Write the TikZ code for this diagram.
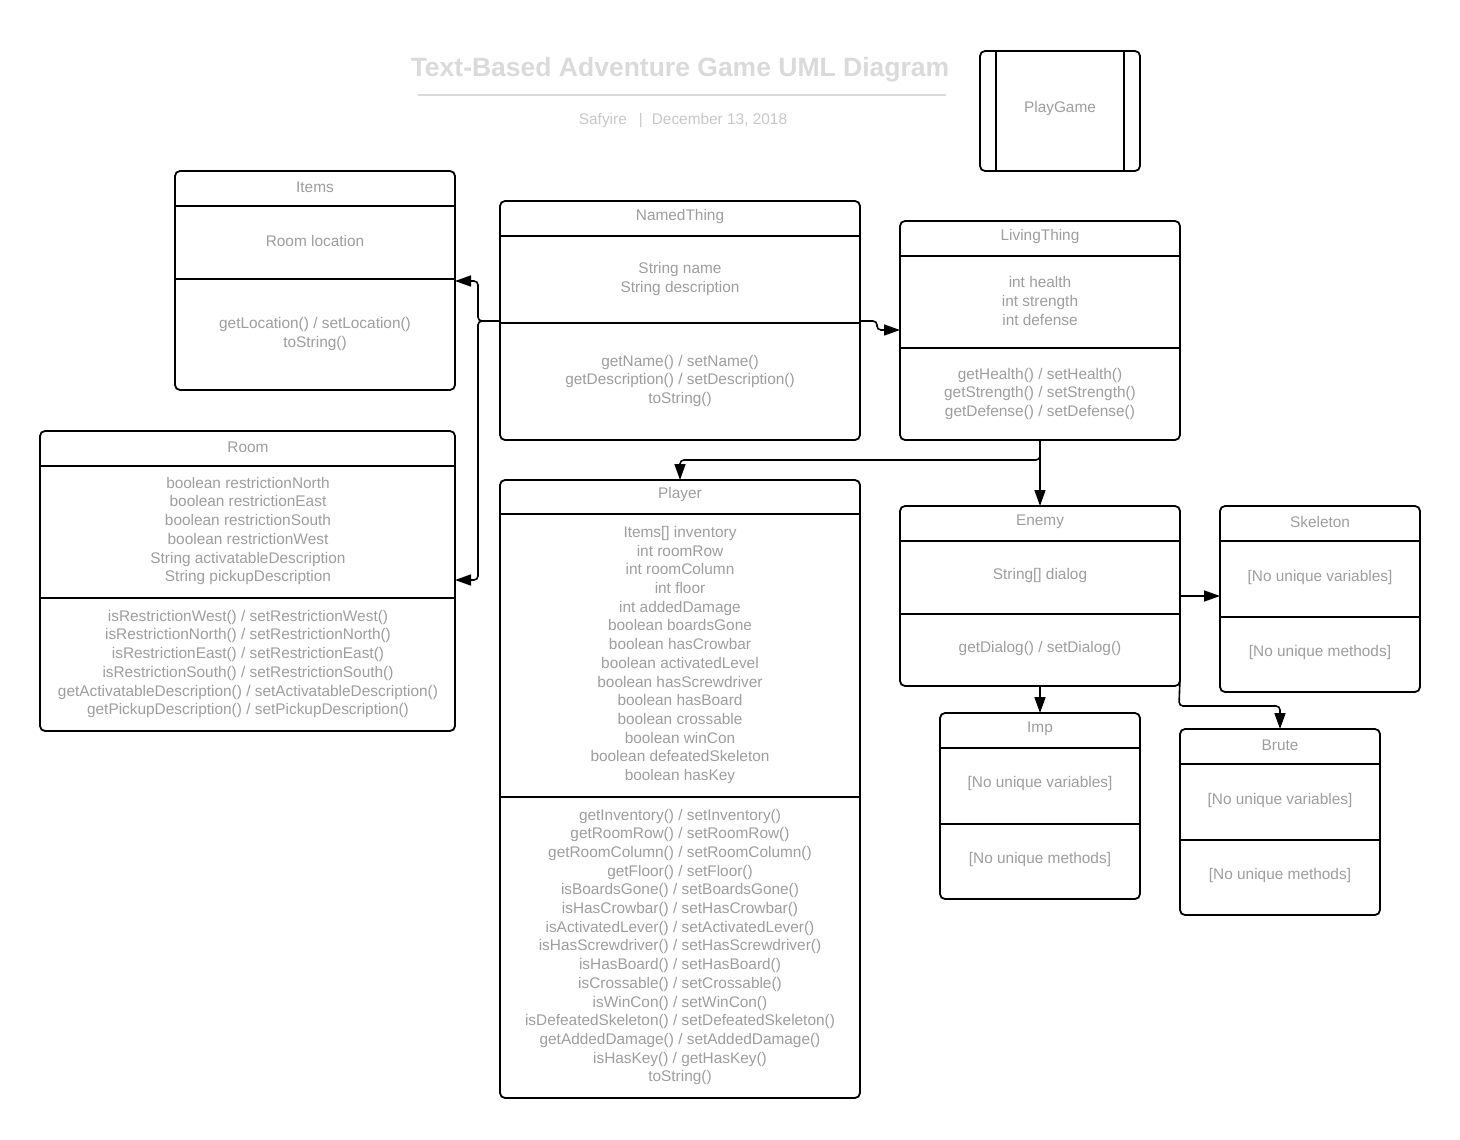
\documentclass[tikz,border=0pt]{standalone}
\usepackage{fontspec}
\setmainfont{Liberation Sans}
\usetikzlibrary{arrows.meta}
\definecolor{txtgray}{RGB}{158,158,158}
\definecolor{titlegray}{RGB}{218,218,218}
\definecolor{subgray}{RGB}{200,200,200}
\tikzset{
  classbox/.style={draw=black, line width=1.8pt, rounded corners=5pt, inner sep=0pt, outer sep=0pt, anchor=north west},
  divider/.style={draw=black, line width=1.8pt},
  cls/.style={text=txtgray, align=center, inner sep=0pt, font=\fontsize{15.4}{18.7}\selectfont},
  conn/.style={draw=black, line width=1.6pt, rounded corners=4pt, -{Triangle[length=16pt,width=11pt]}},
}
\begin{document}
\begin{tikzpicture}[x=1pt,y=-1pt]
\useasboundingbox[fill=white] (0,0) rectangle (1460,1140);

% heading
\node[text=titlegray, font=\bfseries\fontsize{26.5}{30}\selectfont, inner sep=0pt] (title) at (680,70) {Text-Based Adventure Game UML Diagram};
\draw[titlegray, line width=1.6pt] (418,95) -- (946,95);
\node[text=subgray, font=\fontsize{15.4}{18}\selectfont, inner sep=0pt] (sub) at (683,121) {Safyire\hspace{12pt}|\hspace{9pt}December 13, 2018};

% PlayGame
\node[classbox, minimum width=160pt, minimum height=120pt] (pg) at (980,51) {};
\draw[divider] (996,51) -- (996,171);
\draw[divider] (1124,51) -- (1124,171);
\node[cls] (pg-t) at (1060,109) {PlayGame};

% Items
\node[classbox, minimum width=280pt, minimum height=219pt] (items) at (175,171) {};
\draw[divider] (175,206) -- (455,206);
\draw[divider] (175,279) -- (455,279);
\node[cls] (items-t) at (315,187) {Items};
\node[cls] (items-a) at (315,241) {Room location};
\node[cls] (items-m) at (315,334) {getLocation() / setLocation()\\toString()};

% NamedThing
\node[classbox, minimum width=360pt, minimum height=239pt] (nt) at (500,201) {};
\draw[divider] (500,236) -- (860,236);
\draw[divider] (500,323) -- (860,323);
\node[cls] (nt-t) at (680,217) {NamedThing};
\node[cls] (nt-a) at (680,279) {String name\\String description};
\node[cls] (nt-m) at (680,381) {getName() / setName()\\getDescription() / setDescription()\\toString()};

% LivingThing
\node[classbox, minimum width=280pt, minimum height=219pt] (lt) at (900,221) {};
\draw[divider] (900,256) -- (1180,256);
\draw[divider] (900,348) -- (1180,348);
\node[cls] (lt-t) at (1040,237) {LivingThing};
\node[cls] (lt-a) at (1040,301) {int health\\int strength\\int defense};
\node[cls] (lt-m) at (1040,394) {getHealth() / setHealth()\\getStrength() / setStrength()\\getDefense() / setDefense()};

% Room
\node[classbox, minimum width=415pt, minimum height=300pt] (room) at (40,431) {};
\draw[divider] (40,466) -- (455,466);
\draw[divider] (40,598) -- (455,598);
\node[cls] (room-t) at (248,447) {Room};
\node[cls] (room-a) at (248,531) {boolean restrictionNorth\\boolean restrictionEast\\boolean restrictionSouth\\boolean restrictionWest\\String activatableDescription\\String pickupDescription};
\node[cls] (room-m) at (248,664) {isRestrictionWest() / setRestrictionWest()\\isRestrictionNorth() / setRestrictionNorth()\\isRestrictionEast() / setRestrictionEast()\\isRestrictionSouth() / setRestrictionSouth()\\getActivatableDescription() / setActivatableDescription()\\getPickupDescription() / setPickupDescription()};

% Player
\node[classbox, minimum width=360pt, minimum height=618pt] (pl) at (500,480) {};
\draw[divider] (500,514) -- (860,514);
\draw[divider] (500,797) -- (860,797);
\node[cls] (pl-t) at (680,495) {Player};
\node[cls] (pl-a) at (680,655) {Items[] inventory\\int roomRow\\int roomColumn\\int floor\\int addedDamage\\boolean boardsGone\\boolean hasCrowbar\\boolean activatedLevel\\boolean hasScrewdriver\\boolean hasBoard\\boolean crossable\\boolean winCon\\boolean defeatedSkeleton\\boolean hasKey};
\node[cls] (pl-m) at (680,947) {getInventory() / setInventory()\\getRoomRow() / setRoomRow()\\getRoomColumn() / setRoomColumn()\\getFloor() / setFloor()\\isBoardsGone() / setBoardsGone()\\isHasCrowbar() / setHasCrowbar()\\isActivatedLever() / setActivatedLever()\\isHasScrewdriver() / setHasScrewdriver()\\isHasBoard() / setHasBoard()\\isCrossable() / setCrossable()\\isWinCon() / setWinCon()\\isDefeatedSkeleton() / setDefeatedSkeleton()\\getAddedDamage() / setAddedDamage()\\isHasKey() / getHasKey()\\toString()};

% Enemy
\node[classbox, minimum width=280pt, minimum height=180pt] (en) at (900,506) {};
\draw[divider] (900,541) -- (1180,541);
\draw[divider] (900,614) -- (1180,614);
\node[cls] (en-t) at (1040,522) {Enemy};
\node[cls] (en-a) at (1040,576) {String[] dialog};
\node[cls] (en-m) at (1040,649) {getDialog() / setDialog()};

% Skeleton
\node[classbox, minimum width=200pt, minimum height=186pt] (sk) at (1220,506) {};
\draw[divider] (1220,541) -- (1420,541);
\draw[divider] (1220,617) -- (1420,617);
\node[cls] (sk-t) at (1320,522) {Skeleton};
\node[cls] (sk-a) at (1320,578) {[No unique variables]};
\node[cls] (sk-m) at (1320,653) {[No unique methods]};

% Imp
\node[classbox, minimum width=200pt, minimum height=186pt] (imp) at (940,713) {};
\draw[divider] (940,748) -- (1140,748);
\draw[divider] (940,824) -- (1140,824);
\node[cls] (imp-t) at (1040,729) {Imp};
\node[cls] (imp-a) at (1040,784) {[No unique variables]};
\node[cls] (imp-m) at (1040,860) {[No unique methods]};

% Brute
\node[classbox, minimum width=200pt, minimum height=186pt] (br) at (1180,729) {};
\draw[divider] (1180,764) -- (1380,764);
\draw[divider] (1180,840) -- (1380,840);
\node[cls] (br-t) at (1280,745) {Brute};
\node[cls] (br-a) at (1280,801) {[No unique variables]};
\node[cls] (br-m) at (1280,876) {[No unique methods]};

% connectors
\coordinate (ntl) at (478,321);
\draw[conn] (nt.west |- ntl) -- (ntl) |- (items.east |- 0,281);
\draw[conn] (nt.west |- ntl) -- (ntl) |- (room.east |- 0,580);
\draw[conn] (nt.east |- 0,321) -- (877,321) |- (lt.west |- 0,330);
\draw[conn] (lt.south) -- ++(0,20) -| (pl.north);
\draw[conn] (lt.south) -- (en.north);
\draw[conn] (en.east |- 0,596) -- (sk.west |- 0,596);
\draw[conn] (en.south) -- (imp.north);
\draw[conn] (en.east |- 0,678) -- (1179,706) -| (br.north);
\end{tikzpicture}
\end{document}
